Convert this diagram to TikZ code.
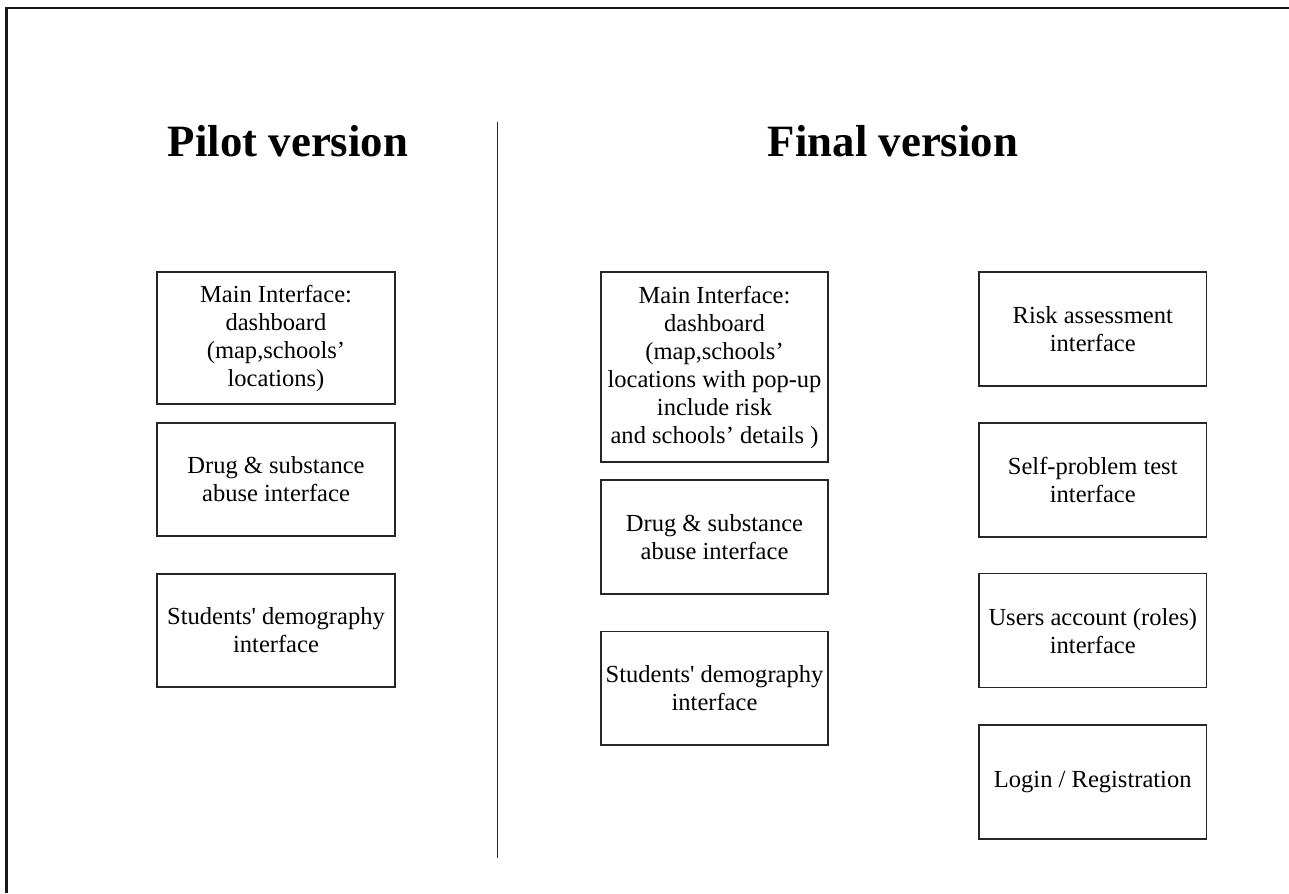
\documentclass[tikz,border=0pt]{standalone}
\usepackage{fontspec}
\setmainfont{Liberation Serif}
\begin{document}
\begin{tikzpicture}[x=0.75pt,y=-0.75pt,
  box/.style={draw=black!85,line width=1pt,rectangle,align=center,inner sep=0pt,
    font=\fontsize{18.4}{21}\selectfont},
  pw/.style={minimum width=178.5pt},
  fw/.style={minimum width=170.4pt},
  title/.style={anchor=base,font=\fontsize{33.6}{40}\selectfont\bfseries}]
\useasboundingbox (0,0) rectangle (1289,893);
% frame
\draw[line width=1.6pt,black!90] (6.5,893) -- (6.5,8) -- (1289,8);
% titles
\node[title] (tp) at (288,156) {Pilot version};
\node[title] (tf) at (893,156) {Final version};
% divider
\coordinate (d1) at (497.5,122);
\coordinate (d2) at (497.5,858);
\draw[line width=1.3pt,black!85] (d1) -- (d2);
% pilot
\node[box,pw,minimum height=99pt] (p1) at (276,338) {Main Interface:\\dashboard\\(map,schools’\\locations)};
\node[box,pw,minimum height=84.75pt] (p2) at (276,479.5) {Drug \& substance\\abuse interface};
\node[box,pw,minimum height=84.75pt] (p3) at (276,630.5) {Students{\addfontfeatures{Ligatures=TeXOff}'} demography\\interface};
% final left
\node[box,fw,minimum height=142.5pt] (f1) at (714.5,367) {Main Interface:\\dashboard\\(map,schools’\\locations with pop-up\\include risk\\and schools’ details )};
\node[box,fw,minimum height=85.5pt] (f2) at (714.5,537) {Drug \& substance\\abuse interface};
\node[box,fw,minimum height=85.1pt] (f3) at (714.5,688.2) {Students{\addfontfeatures{Ligatures=TeXOff}'} demography\\interface};
% final right
\node[box,fw,minimum height=85.5pt] (r1) at (1092.75,329) {Risk assessment\\interface};
\node[box,fw,minimum height=85.5pt] (r2) at (1092.75,480) {Self-problem test\\interface};
\node[box,fw,minimum height=85.2pt] (r3) at (1092.75,630.6) {Users account (roles)\\interface};
\node[box,fw,minimum height=85.5pt] (r4) at (1092.75,782) {Login / Registration};
\end{tikzpicture}
\end{document}
